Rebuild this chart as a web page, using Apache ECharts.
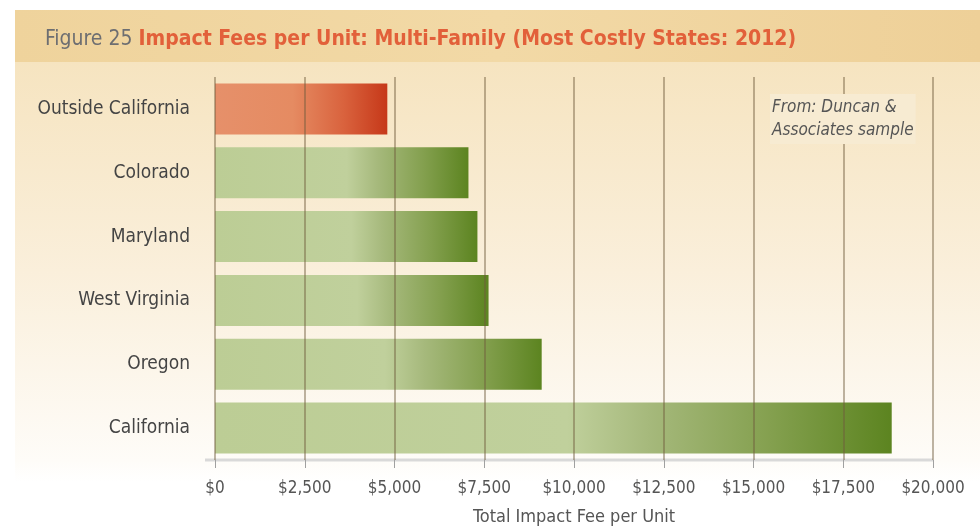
<!DOCTYPE html>
<html>
<head>
<meta charset="utf-8">
<script src="https://cdn.jsdelivr.net/npm/echarts@6/dist/echarts.min.js"></script>
<style>
  html, body { margin: 0; padding: 0; background: #fff; }
  #main { width: 980px; height: 527px; }
</style>
</head>
<body>
<div id="main"></div>
<script>
// 数据
var states = ['Outside California', 'Colorado', 'Maryland', 'West Virginia', 'Oregon', 'California'];
var fees = [4800, 7060, 7310, 7620, 9100, 18850];
var highlight = [true, false, false, false, false, false];
var tickStep = 2500;
var axisMax = 20000;

var narrow = '"Liberation Sans Narrow", "DejaVu Sans Condensed", "Roboto", sans-serif';

function barColor(isOrange) {
  if (isOrange) {
    return {
      type: 'linear', x: 0, y: 0, x2: 1, y2: 0,
      colorStops: [
        { offset: 0, color: '#e6906a' },
        { offset: 0.45, color: '#e58b62' },
        { offset: 0.75, color: '#d9623d' },
        { offset: 1, color: '#c63819' }
      ]
    };
  }
  return {
    type: 'linear', x: 0, y: 0, x2: 1, y2: 0,
    colorStops: [
      { offset: 0, color: '#bccd95' },
      { offset: 0.52, color: '#c0d09c' },
      { offset: 0.64, color: '#a6b97c' },
      { offset: 0.82, color: '#84a04f' },
      { offset: 1, color: '#5c8420' }
    ]
  };
}

var chart = echarts.init(document.getElementById('main'));
chart.setOption({
  animation: false,
  backgroundColor: '#ffffff',
  textStyle: { fontFamily: narrow },
  graphic: [
    {
      type: 'rect', left: 15, top: 10, z: -10,
      shape: { width: 965, height: 52 },
      style: {
        fill: {
          type: 'linear', x: 0, y: 0, x2: 1, y2: 0,
          colorStops: [
            { offset: 0, color: '#efd39c' },
            { offset: 0.5, color: '#f2d9a6' },
            { offset: 1, color: '#eed098' }
          ]
        }
      }
    },
    {
      type: 'rect', left: 15, top: 62, z: -10,
      shape: { width: 965, height: 420 },
      style: {
        fill: {
          type: 'linear', x: 0, y: 0, x2: 0, y2: 1,
          colorStops: [
            { offset: 0, color: '#f6e4c0' },
            { offset: 0.5, color: '#faefdb' },
            { offset: 0.95, color: '#fefcf8' },
            { offset: 1, color: '#ffffff' }
          ]
        }
      }
    },
    {
      type: 'line', z: 1,
      shape: { x1: 205, y1: 460, x2: 933, y2: 460 },
      style: { stroke: '#d9d9d9', lineWidth: 3 }
    },
    {
      type: 'text', z: 20, left: 770, top: 94,
      style: {
        text: 'From: Duncan &\nAssociates sample',
        font: 'italic 17px ' + narrow,
        fill: '#555555',
        align: 'center',
        lineHeight: 23,
        backgroundColor: '#f7ebd2',
        padding: [2, 2]
      }
    }
  ],
  title: {
    left: 40, top: 24,
    text: '{a|Figure 25 }{b|Impact Fees per Unit: Multi-Family (Most Costly States: 2012)}',
    textStyle: {
      rich: {
        a: { fontSize: 21, color: '#6d6e71', fontWeight: 'normal', fontFamily: narrow },
        b: { fontSize: 21, color: '#e2603a', fontWeight: 'bold', fontFamily: narrow }
      }
    }
  },
  grid: { left: 215, right: 47, top: 77, bottom: 67, outerBoundsMode: 'none' },
  xAxis: {
    type: 'value', min: 0, max: axisMax, interval: tickStep, z: 5,
    name: 'Total Impact Fee per Unit', nameLocation: 'middle', nameGap: 48,
    nameTextStyle: { fontSize: 18, color: '#555555', fontFamily: narrow },
    axisLine: { show: false },
    axisTick: { show: true, length: 8, lineStyle: { color: '#a0a0a0', width: 1 } },
    axisLabel: {
      fontSize: 17, color: '#555555', margin: 20, fontFamily: narrow,
      formatter: function (v) { return '$' + v.toLocaleString('en-US'); }
    },
    splitLine: { show: true, lineStyle: { color: 'rgba(110, 90, 60, 0.45)', width: 2 } }
  },
  yAxis: {
    type: 'category', data: states, inverse: true,
    axisLine: { show: false },
    axisTick: { show: false },
    axisLabel: { fontSize: 19, color: '#444444', margin: 25, fontFamily: narrow }
  },
  series: [{
    type: 'bar',
    barWidth: 51,
    data: fees.map(function (v, i) {
      return { value: v, itemStyle: { color: barColor(highlight[i]) } };
    })
  }]
});
</script>
</body>
</html>
